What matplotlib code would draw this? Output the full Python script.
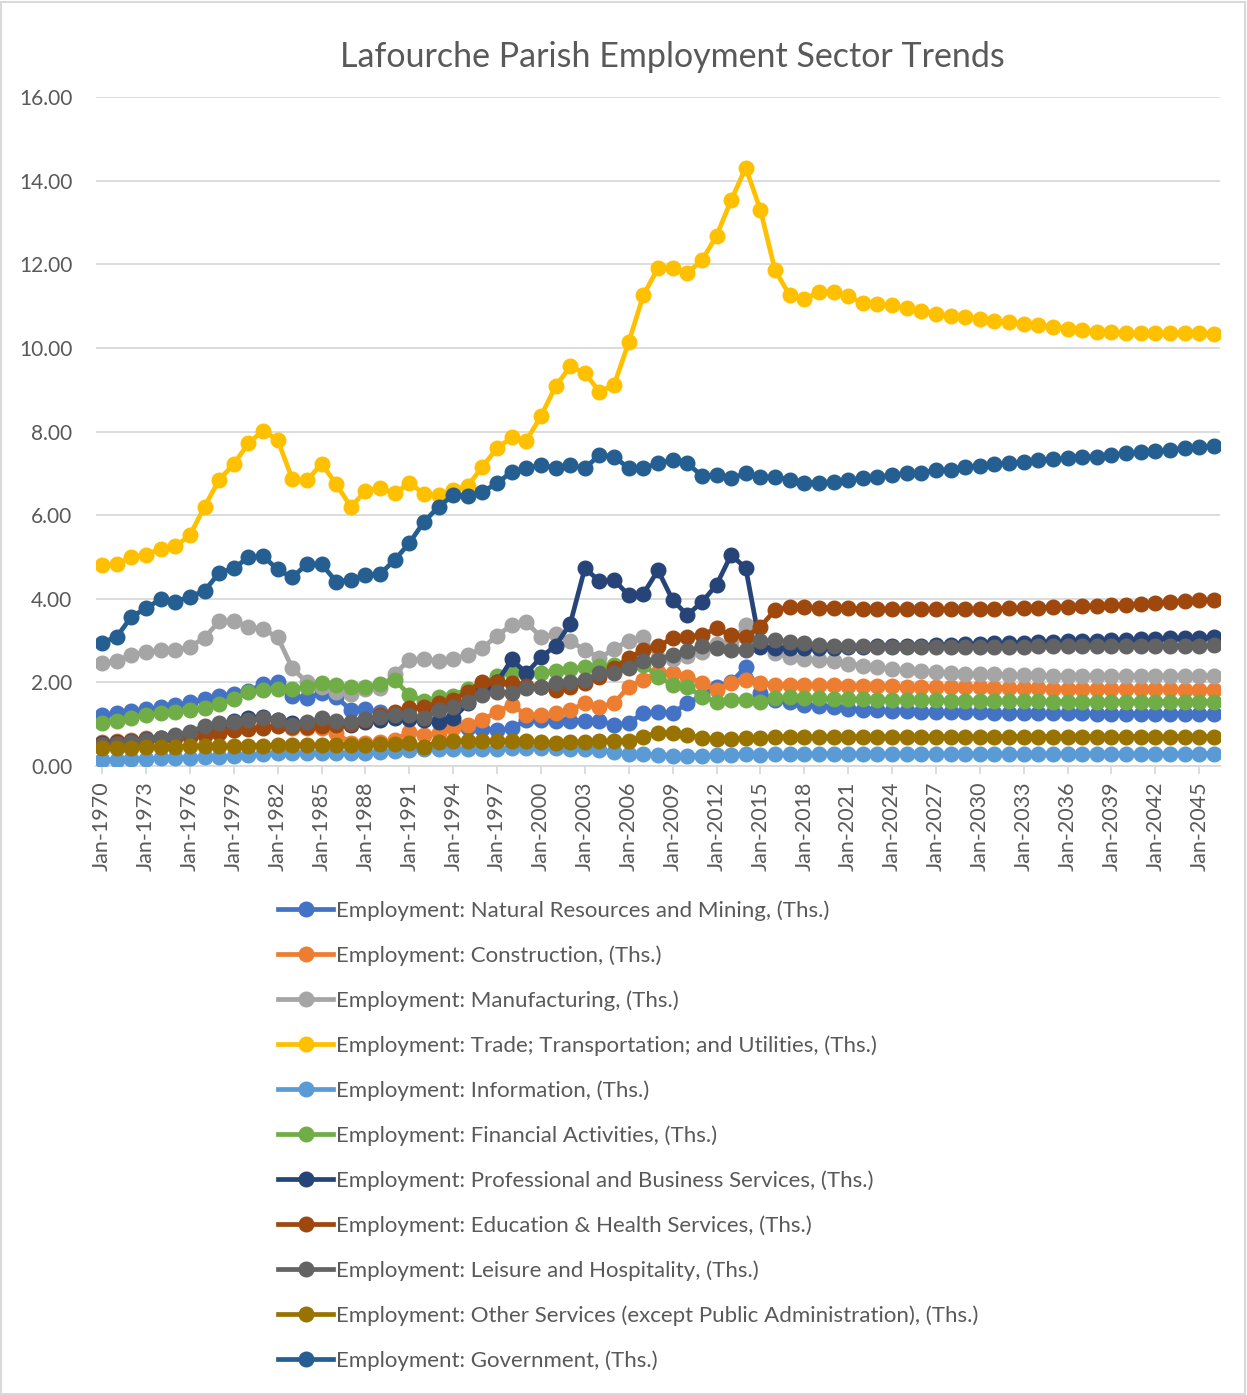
import matplotlib
matplotlib.use("Agg")
import matplotlib.pyplot as plt
from matplotlib.patches import Rectangle
import numpy as np

years = list(range(1970, 2047))

natural_resources = [
    1.22, 1.27, 1.32, 1.36, 1.40, 1.45, 1.52, 1.60, 1.68, 1.73,
    1.80, 1.95, 2.02, 1.68, 1.62, 1.74, 1.65, 1.34, 1.36, 1.28,
    1.22, 1.18, 1.15, 1.10, 1.08, 0.92, 0.88, 0.86, 0.90, 1.10,
    1.10, 1.08, 1.08, 1.08, 1.08, 0.98, 1.03, 1.27, 1.30, 1.27,
    1.50, 1.68, 1.90, 2.00, 2.37, 1.75, 1.58, 1.52, 1.46, 1.43,
    1.40, 1.37, 1.35, 1.33, 1.32, 1.31, 1.30, 1.29, 1.29, 1.28,
    1.28, 1.27, 1.27, 1.27, 1.26, 1.26, 1.26, 1.26, 1.25, 1.25,
    1.25, 1.25, 1.25, 1.25, 1.25, 1.25, 1.25]
construction = [
    0.58, 0.60, 0.63, 0.66, 0.68, 0.70, 0.72, 0.75, 0.80, 0.85,
    0.90, 0.95, 0.97, 0.92, 0.90, 0.92, 0.78, 0.55, 0.55, 0.57,
    0.62, 0.82, 0.74, 0.78, 0.90, 0.98, 1.10, 1.30, 1.46, 1.22,
    1.22, 1.26, 1.34, 1.50, 1.42, 1.50, 1.90, 2.06, 2.26, 2.22,
    2.14, 1.98, 1.82, 1.98, 2.06, 1.98, 1.94, 1.94, 1.94, 1.93,
    1.93, 1.92, 1.92, 1.91, 1.91, 1.90, 1.90, 1.89, 1.89, 1.88,
    1.88, 1.87, 1.87, 1.86, 1.86, 1.85, 1.85, 1.84, 1.84, 1.84,
    1.83, 1.83, 1.83, 1.83, 1.82, 1.82, 1.82]
manufacturing = [
    2.46, 2.52, 2.66, 2.73, 2.77, 2.78, 2.85, 3.07, 3.46, 3.47,
    3.33, 3.27, 3.08, 2.34, 2.00, 1.88, 1.76, 1.72, 1.84, 1.86,
    2.20, 2.54, 2.56, 2.50, 2.57, 2.65, 2.82, 3.12, 3.37, 3.44,
    3.08, 3.15, 2.98, 2.78, 2.58, 2.80, 3.00, 3.08, 2.58, 2.55,
    2.62, 2.72, 2.92, 2.95, 3.37, 2.90, 2.70, 2.61, 2.56, 2.54,
    2.51, 2.45, 2.40, 2.36, 2.32, 2.29, 2.27, 2.25, 2.23, 2.21,
    2.20, 2.19, 2.18, 2.17, 2.17, 2.16, 2.16, 2.15, 2.15, 2.15,
    2.15, 2.15, 2.15, 2.15, 2.15, 2.15, 2.16]
trade = [
    4.80, 4.82, 5.00, 5.05, 5.20, 5.25, 5.52, 6.20, 6.85, 7.22,
    7.72, 8.02, 7.80, 6.86, 6.83, 7.23, 6.74, 6.20, 6.57, 6.66,
    6.52, 6.77, 6.51, 6.48, 6.60, 6.70, 7.16, 7.60, 7.86, 7.78,
    8.37, 9.08, 9.56, 9.40, 8.95, 9.11, 10.14, 11.26, 11.91, 11.91,
    11.79, 12.09, 12.68, 13.53, 14.31, 13.30, 11.86, 11.26, 11.16, 11.34,
    11.34, 11.23, 11.08, 11.05, 11.02, 10.95, 10.89, 10.81, 10.77, 10.73,
    10.69, 10.65, 10.61, 10.58, 10.55, 10.51, 10.46, 10.43, 10.39, 10.37,
    10.35, 10.35, 10.35, 10.36, 10.36, 10.35, 10.34]
information = [
    0.14, 0.15, 0.16, 0.17, 0.18, 0.19, 0.20, 0.21, 0.22, 0.24,
    0.26, 0.28, 0.30, 0.31, 0.31, 0.31, 0.30, 0.30, 0.31, 0.33,
    0.36, 0.39, 0.40, 0.40, 0.40, 0.41, 0.41, 0.41, 0.42, 0.42,
    0.42, 0.42, 0.41, 0.40, 0.38, 0.33, 0.28, 0.28, 0.27, 0.25,
    0.25, 0.25, 0.26, 0.27, 0.28, 0.27, 0.28, 0.28, 0.28, 0.29,
    0.29, 0.29, 0.29, 0.29, 0.29, 0.29, 0.29, 0.29, 0.29, 0.29,
    0.29, 0.29, 0.29, 0.29, 0.29, 0.29, 0.29, 0.29, 0.29, 0.29,
    0.29, 0.29, 0.29, 0.29, 0.29, 0.29, 0.29]
financial = [
    1.04, 1.08, 1.15, 1.21, 1.26, 1.29, 1.33, 1.38, 1.48, 1.60,
    1.76, 1.82, 1.83, 1.83, 1.90, 1.98, 1.93, 1.88, 1.90, 1.95,
    2.06, 1.70, 1.56, 1.64, 1.68, 1.85, 1.95, 2.16, 2.25, 2.20,
    2.22, 2.28, 2.32, 2.36, 2.38, 2.42, 2.45, 2.42, 2.14, 1.94,
    1.90, 1.66, 1.54, 1.58, 1.58, 1.52, 1.62, 1.64, 1.63, 1.62,
    1.61, 1.60, 1.60, 1.59, 1.58, 1.58, 1.57, 1.57, 1.56, 1.56,
    1.56, 1.55, 1.55, 1.55, 1.55, 1.54, 1.54, 1.54, 1.54, 1.54,
    1.54, 1.54, 1.54, 1.54, 1.54, 1.54, 1.54]
professional = [
    0.55, 0.57, 0.60, 0.65, 0.68, 0.72, 0.78, 0.88, 0.98, 1.08,
    1.15, 1.18, 1.10, 1.02, 1.02, 1.05, 1.00, 0.98, 1.05, 1.10,
    1.15, 1.12, 1.10, 1.06, 1.14, 1.50, 1.75, 2.00, 2.55, 2.22,
    2.60, 2.88, 3.40, 4.73, 4.42, 4.45, 4.08, 4.12, 4.68, 3.97,
    3.61, 3.92, 4.33, 5.05, 4.73, 2.85, 2.82, 2.82, 2.82, 2.83,
    2.83, 2.84, 2.85, 2.86, 2.87, 2.87, 2.88, 2.89, 2.90, 2.91,
    2.92, 2.93, 2.94, 2.95, 2.96, 2.97, 2.98, 2.99, 3.00, 3.01,
    3.02, 3.03, 3.04, 3.05, 3.06, 3.07, 3.08]
education = [
    0.52, 0.55, 0.58, 0.61, 0.64, 0.67, 0.70, 0.74, 0.80, 0.85,
    0.88, 0.92, 0.95, 0.93, 0.93, 0.95, 0.97, 1.00, 1.10, 1.22,
    1.30, 1.38, 1.42, 1.50, 1.58, 1.78, 2.02, 2.02, 1.98, 1.92,
    1.90, 1.82, 1.90, 1.98, 2.14, 2.34, 2.58, 2.78, 2.86, 3.06,
    3.09, 3.13, 3.29, 3.13, 3.09, 3.33, 3.73, 3.81, 3.80, 3.79,
    3.78, 3.77, 3.76, 3.76, 3.75, 3.75, 3.75, 3.75, 3.75, 3.75,
    3.76, 3.76, 3.77, 3.78, 3.79, 3.80, 3.81, 3.82, 3.83, 3.85,
    3.86, 3.88, 3.90, 3.92, 3.94, 3.96, 3.98]
leisure = [
    0.50, 0.53, 0.57, 0.62, 0.68, 0.74, 0.82, 0.95, 1.02, 1.06,
    1.10, 1.14, 1.10, 0.98, 1.05, 1.14, 1.08, 1.05, 1.12, 1.18,
    1.22, 1.22, 1.14, 1.34, 1.42, 1.54, 1.70, 1.78, 1.74, 1.86,
    1.88, 1.98, 2.02, 2.06, 2.22, 2.22, 2.34, 2.50, 2.54, 2.66,
    2.74, 2.86, 2.82, 2.78, 2.78, 2.98, 3.01, 2.97, 2.93, 2.90,
    2.88, 2.87, 2.86, 2.85, 2.85, 2.85, 2.85, 2.85, 2.85, 2.85,
    2.85, 2.85, 2.85, 2.85, 2.86, 2.86, 2.86, 2.86, 2.86, 2.87,
    2.87, 2.87, 2.87, 2.88, 2.88, 2.88, 2.89]
other_services = [
    0.42, 0.43, 0.44, 0.45, 0.46, 0.46, 0.47, 0.47, 0.48, 0.48,
    0.49, 0.49, 0.50, 0.50, 0.50, 0.50, 0.50, 0.50, 0.51, 0.52,
    0.53, 0.54, 0.46, 0.58, 0.60, 0.60, 0.60, 0.60, 0.60, 0.60,
    0.57, 0.56, 0.57, 0.58, 0.60, 0.60, 0.60, 0.70, 0.80, 0.80,
    0.74, 0.68, 0.65, 0.65, 0.66, 0.67, 0.70, 0.70, 0.70, 0.70,
    0.70, 0.70, 0.70, 0.70, 0.70, 0.70, 0.70, 0.70, 0.70, 0.70,
    0.70, 0.70, 0.70, 0.70, 0.70, 0.70, 0.70, 0.70, 0.70, 0.70,
    0.70, 0.70, 0.70, 0.70, 0.70, 0.70, 0.70]
government = [
    2.95, 3.09, 3.57, 3.77, 3.99, 3.93, 4.05, 4.19, 4.62, 4.73,
    4.99, 5.02, 4.70, 4.51, 4.83, 4.83, 4.41, 4.45, 4.57, 4.59,
    4.93, 5.33, 5.84, 6.20, 6.48, 6.45, 6.56, 6.76, 7.04, 7.12,
    7.20, 7.12, 7.20, 7.12, 7.44, 7.40, 7.12, 7.12, 7.24, 7.32,
    7.24, 6.94, 6.96, 6.88, 7.00, 6.92, 6.91, 6.85, 6.78, 6.78,
    6.80, 6.84, 6.88, 6.90, 6.96, 7.00, 7.01, 7.08, 7.09, 7.16,
    7.18, 7.23, 7.24, 7.28, 7.32, 7.34, 7.36, 7.38, 7.40, 7.44,
    7.48, 7.50, 7.54, 7.56, 7.60, 7.62, 7.66]

series_names = [
    "Employment: Natural Resources and Mining, (Ths.)",
    "Employment: Construction, (Ths.)",
    "Employment: Manufacturing, (Ths.)",
    "Employment: Trade; Transportation; and Utilities, (Ths.)",
    "Employment: Information, (Ths.)",
    "Employment: Financial Activities, (Ths.)",
    "Employment: Professional and Business Services, (Ths.)",
    "Employment: Education & Health Services, (Ths.)",
    "Employment: Leisure and Hospitality, (Ths.)",
    "Employment: Other Services (except Public Administration), (Ths.)",
    "Employment: Government, (Ths.)",
]
series_values = [natural_resources, construction, manufacturing, trade, information,
                 financial, professional, education, leisure, other_services, government]
colors = ["#4472C4", "#ED7D31", "#A5A5A5", "#FFC000", "#5B9BD5", "#70AD47",
          "#264478", "#9E480E", "#636363", "#997300", "#255E91"]

tick_years = list(range(1970, 2046, 3))
tick_labels = ["Jan-%d" % y for y in tick_years]

plt.rcParams['font.family'] = ['Lato', 'DejaVu Sans']
text_color = '#595959'
grid_color = '#D9D9D9'

W, H = 1247, 1395
fig = plt.figure(figsize=(W / 100, H / 100), dpi=100)
ax = fig.add_axes([96 / W, 1 - 766 / H, (1220 - 96) / W, (766 - 97) / H])

handles = []
for i, (name, vals, c) in enumerate(zip(series_names, series_values, colors)):
    h, = ax.plot(years, vals, color=c, lw=3.4, marker='o', markersize=10.5,
                 label=name, zorder=3 + i)
    handles.append(h)

ax.set_ylim(0, 16)
ax.set_yticks(np.arange(0, 17, 2))
ax.yaxis.set_major_formatter(matplotlib.ticker.FormatStrFormatter('%.2f'))
ax.set_xlim(1970 - 0.42, 2046 + 0.42)
ax.set_xticks(tick_years)
ax.set_xticklabels(tick_labels, rotation=90)

ax.grid(axis='y', color=grid_color, lw=1.3)
ax.set_axisbelow(True)
for s in ['top', 'right', 'left']:
    ax.spines[s].set_visible(False)
ax.spines['bottom'].set_color(grid_color)
ax.spines['bottom'].set_linewidth(1.3)
ax.tick_params(axis='y', length=0, pad=17, labelsize=15, labelcolor=text_color)
ax.tick_params(axis='x', length=6, width=1.3, color=grid_color, pad=5,
               labelsize=15.5, labelcolor=text_color)

fig.text(672 / W, 1 - 57 / H, "Lafourche Parish Employment Sector Trends",
         ha='center', va='center', fontsize=24.5, color=text_color)

leg = fig.legend(handles=handles, loc='upper left',
                 bbox_to_anchor=(278 / W, 1 - 900 / H), frameon=False,
                 fontsize=16, labelcolor=text_color, handlelength=2.48,
                 handletextpad=0.12, labelspacing=1.1, borderaxespad=0,
                 borderpad=0)
for lh in leg.legend_handles:
    lh.set_markersize(10.5)

fig.patches.append(Rectangle((1 / W, 1 / H), (W - 3) / W, (H - 3) / H,
                             transform=fig.transFigure, fill=False,
                             edgecolor=grid_color, lw=1.5))

fig.savefig("out.png", dpi=100)
